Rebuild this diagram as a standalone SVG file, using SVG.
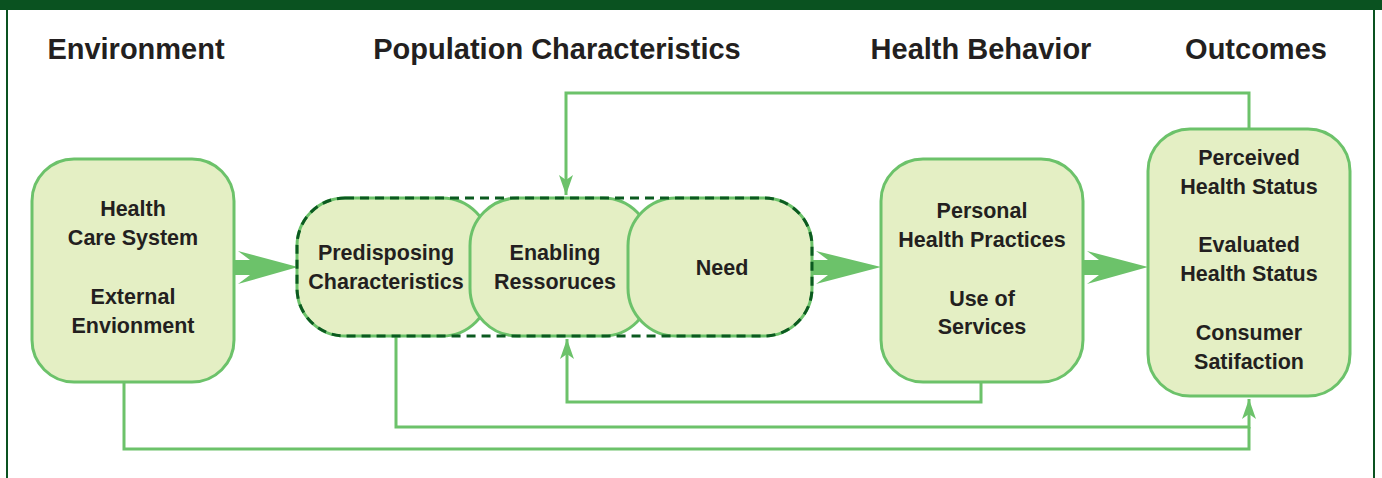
<svg xmlns="http://www.w3.org/2000/svg" width="1382" height="478" viewBox="0 0 1382 478">
<defs>
<style>
.box{fill:#e4efc4;stroke:#6cc26a;stroke-width:3}
.dash{fill:none;stroke:#0b5a20;stroke-width:3;stroke-dasharray:9 6}
.hd{font-family:"Liberation Sans",Arial,sans-serif;font-weight:bold;font-size:29px;fill:#231f20;text-anchor:middle}
.tx{font-family:"Liberation Sans",Arial,sans-serif;font-weight:bold;font-size:21.5px;fill:#231f20;text-anchor:middle}
.ln{fill:none;stroke:#6cc26a;stroke-width:3}
.big{fill:#6cc26a}
</style>
<marker id="ah" viewBox="0 0 20 14" refX="20" refY="7" markerWidth="20" markerHeight="14" markerUnits="userSpaceOnUse" orient="auto">
<path d="M0,0 L20,7 L0,14 L5,7 Z" fill="#6cc26a"/>
</marker>
</defs>
<rect x="0" y="0" width="1382" height="478" fill="#ffffff"/>
<rect x="0" y="0" width="1382" height="10" fill="#0a5220"/>
<line x1="7" y1="10" x2="7" y2="478" stroke="#0a5220" stroke-width="2"/>
<line x1="1374" y1="10" x2="1374" y2="478" stroke="#0a5220" stroke-width="2"/>

<g id="headers">
<text class="hd" x="136" y="59">Environment</text>
<text class="hd" x="557" y="59">Population Characteristics</text>
<text class="hd" x="981" y="59">Health Behavior</text>
<text class="hd" x="1256" y="59">Outcomes</text>
</g>

<g id="connectors">
<polyline class="ln" points="1249,129 1249,93 566,93 566,195" marker-end="url(#ah)"/>
<polyline class="ln" points="981,382 981,402 567,402 567,339" marker-end="url(#ah)"/>
<polyline class="ln" points="396,336 396,427 1249,427 1249,399" marker-end="url(#ah)"/>
<polyline class="ln" points="124,382 124,449 1249,449 1249,427"/>
<polygon class="big" points="234,260 250,260 238,251 298,267 238,284 250,275 234,275"/>
<polygon class="big" points="812,260 828,260 816,251 881,267 816,284 828,275 812,275"/>
<polygon class="big" points="1083,260 1099,260 1087,251 1148,267 1087,284 1099,275 1083,275"/>
</g>

<g id="environment">
<rect class="box" x="32" y="159" width="202" height="223" rx="42"/>
<text class="tx" x="133" y="216">Health</text>
<text class="tx" x="133" y="245">Care System</text>
<text class="tx" x="133" y="304">External</text>
<text class="tx" x="133" y="333">Envionment</text>
</g>

<g id="predisposing">
<rect class="box" x="297" y="198" width="193" height="138" rx="48"/>
<text class="tx" x="386" y="260">Predisposing</text>
<text class="tx" x="386" y="289">Characteristics</text>
</g>
<g id="enabling">
<rect class="box" x="470" y="198" width="181" height="138" rx="48"/>
<text class="tx" x="555" y="260">Enabling</text>
<text class="tx" x="555" y="289">Ressoruces</text>
</g>
<g id="need">
<rect class="box" x="628" y="198" width="184" height="138" rx="48"/>
<text class="tx" x="722" y="275">Need</text>
</g>
<g id="population-group">
<rect class="dash" x="297" y="198" width="515" height="138" rx="48"/>
</g>

<g id="health-behavior">
<rect class="box" x="881" y="159" width="202" height="223" rx="42"/>
<text class="tx" x="982" y="218">Personal</text>
<text class="tx" x="982" y="247">Health Practices</text>
<text class="tx" x="982" y="306">Use of</text>
<text class="tx" x="982" y="334">Services</text>
</g>

<g id="outcomes">
<rect class="box" x="1148" y="129" width="202" height="267" rx="42"/>
<text class="tx" x="1249" y="165">Perceived</text>
<text class="tx" x="1249" y="194">Health Status</text>
<text class="tx" x="1249" y="252">Evaluated</text>
<text class="tx" x="1249" y="281">Health Status</text>
<text class="tx" x="1249" y="340">Consumer</text>
<text class="tx" x="1249" y="369">Satifaction</text>
</g>
</svg>
